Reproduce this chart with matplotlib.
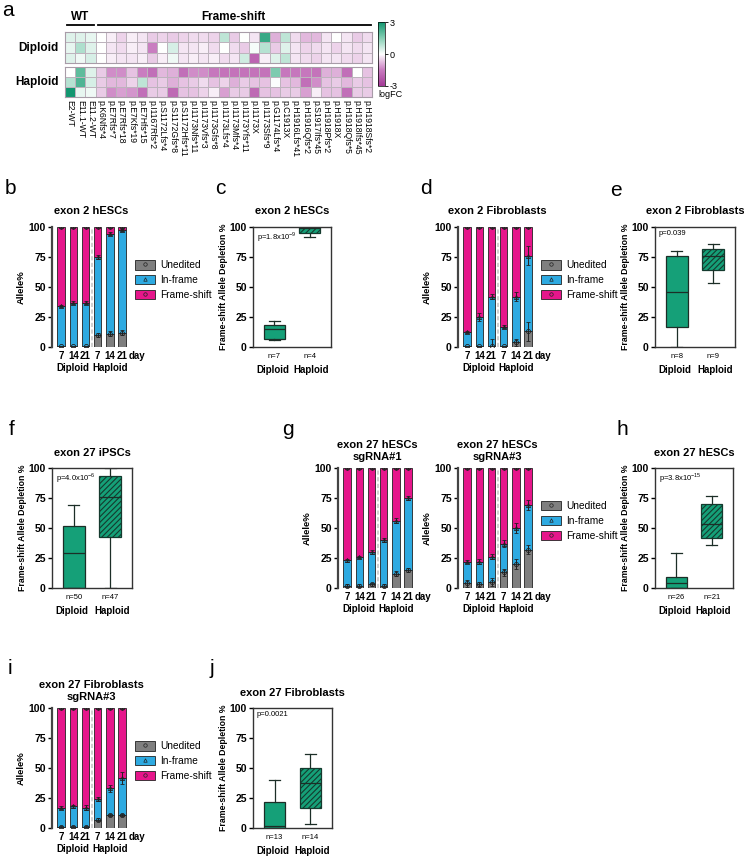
#Multi-panel figure: logFC heatmap, stacked allele bars and depletion box plots
import numpy as np
import matplotlib
matplotlib.use('Agg')
import matplotlib.pyplot as plt
from matplotlib.colors import LinearSegmentedColormap
from matplotlib.patches import Patch
from matplotlib.lines import Line2D
from matplotlib.legend_handler import HandlerTuple

plt.rcParams['font.family'] = ['Liberation Sans', 'DejaVu Sans']
plt.rcParams['mathtext.fontset'] = 'custom'
plt.rcParams['mathtext.rm'] = 'Liberation Sans'
plt.rcParams['hatch.linewidth'] = 0.8

#---------Data------
variants = ['E2-WT', 'E11.1-WT', 'E11.2-WT', 'p.K6Nfs*4', 'p.E7Rfs*7', 'p.E7Rfs*18',
            'p.E7Kfs*19', 'p.E7Hfs*15', 'p.I1167Rfs*2', 'p.S1172Lfs*4', 'p.S1172Gfs*8',
            'p.S1172Hfs*11', 'p.I1173Nfs*11', 'p.I1173Vfs*3', 'p.I1173Gfs*8', 'p.I1173Lfs*4',
            'p.I1173Mfs*4', 'p.I1173Yfs*11', 'p.I1173X', 'p.I1173Sfs*9', 'p.G1174Lfs*4',
            'p.C1913X', 'p.H1916Lfs*41', 'p.H1916Qfs*2', 'p.S1917Ifs*45', 'p.H1918Pfs*2',
            'p.H1918X', 'p.H1918Qfs*5', 'p.H1918Ifs*45', 'p.H1918Sfs*2']

diploid_fc = [
    [0.4, 0.4, 0.3, 0, -0.2, -0.5, -0.2, -0.3, -0.6, -0.5, -0.6, -0.5, -0.4, -0.4, -0.5,
     0.8, -0.6, 0, -0.3, 2.5, -0.9, 0.8, -0.4, -0.8, -0.8, -0.3, 0, -0.3, -0.6, -0.4],
    [0.3, 1.0, 0.4, 0, -0.3, -0.4, -0.2, -0.3, -1.5, 0, 0.5, -0.3, -0.3, -0.2, -0.4,
     0, -0.4, -0.6, 0.1, 0.9, -0.6, 0.4, -0.3, -0.5, -0.4, -0.3, -0.5, -0.3, -0.4, -0.3],
    [0.4, 0.2, 0.5, 0, -0.2, -0.3, -0.3, -0.2, -0.6, -0.2, 0.2, -0.3, -0.2, -0.3, -0.2,
     -0.4, -0.3, 0.6, -2.0, -0.2, 0.4, 0.8, -0.3, -0.4, -0.5, -0.3, -0.3, -0.4, -0.5, -0.3],
]
haploid_fc = [
    [0, 2.0, 0.4, -0.6, -1.3, -1.3, -0.7, -1.5, -1.8, -0.8, -0.9, -1.8, -1.3, -1.3, -1.6,
     -1.7, -1.7, -1.7, -1.7, -1.7, 1.6, -1.6, -1.6, -1.6, -1.7, -0.9, -0.9, -1.8, 0, -0.7],
    [0.9, 2.2, 0.5, -0.6, -0.8, -0.8, -0.5, 0.8, -0.7, -0.6, -0.9, -0.7, -0.6, -0.4, -0.7,
     -0.5, -0.9, -0.6, -0.7, -0.7, 0.05, -0.7, -0.8, -1.8, -1.3, -0.7, -0.6, -0.8, -0.6, -0.7],
    [3.0, 0.3, 0.2, -0.6, -1.3, -1.1, -1.2, -1.8, -0.6, -0.6, -1.9, -0.7, -0.7, -0.5, -0.2,
     -1.1, -0.6, -0.6, -1.9, -0.7, -0.7, -0.6, -0.6, -1.1, -0.2, -0.7, -0.7, -1.8, -0.6, -0.6],
]

days = ['7', '14', '21', '7', '14', '21']

# stacked bars: unedited %, in-frame % (frame-shift is the rest), with sd
b_uned = [0.5, 0.5, 0.5, 10, 11, 12]
b_infr = [33.5, 36.5, 36.5, 65, 83.5, 85.5]
b_uned_sd = [0.5, 0.5, 0.5, 1.5, 2, 2]
b_infr_sd = [1, 1.5, 1.5, 2, 1.5, 1]

d_uned = [0.5, 0.5, 1, 0.5, 4, 13]
d_infr = [12, 24.5, 41, 16.5, 38, 63]
d_uned_sd = [0.5, 0.5, 6, 0.5, 3, 8]
d_infr_sd = [1, 3, 2, 1.5, 4, 8]

g1_uned = [2, 2, 3, 2, 12, 15]
g1_infr = [21, 24, 27, 38, 44, 60]
g1_uned_sd = [1, 1, 1.5, 1, 2, 2]
g1_infr_sd = [1, 1, 1.5, 1.5, 2, 2]

g2_uned = [4, 3, 5, 13, 20, 32]
g2_infr = [18, 19, 21, 24, 30, 37]
g2_uned_sd = [3, 2, 3, 3, 4, 4]
g2_infr_sd = [1.5, 2, 2, 3, 4, 4]

i_uned = [1, 1, 1, 7, 11, 11]
i_infr = [16, 17, 16, 17, 22, 31]
i_uned_sd = [1, 1, 1, 1.5, 1, 1]
i_infr_sd = [1, 1.5, 2, 1.5, 3, 5]

# box plots: (whislo, q1, med, q3, whishi)
c_box = [(5.5, 6.7, 15, 18, 22), (92, 95, 99, 100, 100)]
e_box = [(0, 17, 45.5, 76, 80), (53, 64, 75.5, 82, 86)]
f_box = [(0, 0, 29.5, 51.5, 69.5), (0, 42.5, 75.5, 93.5, 100)]
h_box = [(0, 0, 4, 9, 29.5), (36, 42, 53.3, 70, 76.3)]
j_box = [(0, 0, 1.5, 22, 40), (3.3, 16.4, 37.5, 50.3, 62)]

#---------Plotting begins here------
W, H = 744, 857
fig = plt.figure(figsize=(W / 100, H / 100), dpi=100)

GRAY = '#7f7f7f'
BLUE = '#2eaae1'
PINK = '#e6168b'
GREEN = '#15a078'
EDGE = '#222222'


def add_ax(l, t, r, b):
    return fig.add_axes([l / W, 1 - b / H, (r - l) / W, (b - t) / H])


def panel_label(x, y, s):
    fig.text(x / W, 1 - y / H, s, fontsize=15, ha='center', va='center')


# ---- a: heatmap
cmap = LinearSegmentedColormap.from_list(
    'fc', [(0, '#a33a96'), (0.25, '#c97cc0'), (0.5, '#ffffff'), (0.75, '#86cfb4'), (1, '#11966f')])
ax_d = add_ax(65, 32, 372, 63)
ax_h = add_ax(65, 67, 372, 97)
for ax, vals, name in [(ax_d, diploid_fc, 'Diploid'), (ax_h, haploid_fc, 'Haploid')]:
    mesh = ax.pcolormesh(np.array(vals), cmap=cmap, vmin=-3, vmax=3,
                         edgecolors='#bdb3bd', linewidth=0.6)
    ax.set_xlim(0, len(variants))
    ax.set_ylim(3, 0)
    ax.set_yticks([])
    for s in ax.spines.values():
        s.set_color('#a89ca8')
        s.set_linewidth(0.8)
    ax.text(-0.6, 1.5, name, ha='right', va='center', fontsize=8.5, fontweight='bold')
ax_d.set_xticks([])
ax_h.set_xticks(np.arange(len(variants)) + 0.5)
ax_h.set_xticklabels(variants, rotation=-90, fontsize=6.2, va='top', ha='center')
ax_h.tick_params(axis='x', length=0, pad=2)

ax_d.plot([0.15, 2.85], [-0.7, -0.7], color='k', lw=1.3, clip_on=False)
ax_d.plot([3.2, 29.9], [-0.7, -0.7], color='k', lw=1.3, clip_on=False)
ax_d.text(1.5, -0.85, 'WT', ha='center', va='bottom', fontsize=8.5, fontweight='bold')
ax_d.text(16.5, -0.85, 'Frame-shift', ha='center', va='bottom', fontsize=8.5, fontweight='bold')

cax = add_ax(378, 22, 385, 86)
cb = fig.colorbar(mesh, cax=cax, ticks=[-3, 0, 3])
cb.outline.set_linewidth(0.5)
cax.set_yticklabels(['-3', '0', '3'], fontsize=6.5)
cax.tick_params(length=2, width=0.6, pad=1)
cax.text(0, -0.06, 'logFC', transform=cax.transAxes, ha='left', va='top', fontsize=6.5)
panel_label(8, 10, 'a')


# ---- stacked bar panels
def stacked(ax, uned, infr, uned_sd, infr_sd, title, legend=True, tpad=9):
    x = np.arange(len(days))
    uned = np.array(uned)
    infr = np.array(infr)
    frame = 100 - uned - infr
    kw = dict(width=0.62, edgecolor=EDGE, linewidth=0.6)
    ax.bar(x, uned, color=GRAY, **kw)
    ax.bar(x, infr, bottom=uned, color=BLUE, **kw)
    ax.bar(x, frame, bottom=uned + infr, color=PINK, **kw)
    ekw = dict(ls='none', ms=3, mfc='none', mec=EDGE, mew=0.6, ecolor=EDGE,
               elinewidth=0.7, capsize=1.6, capthick=0.7)
    ax.errorbar(x, uned, yerr=uned_sd, marker='o', **ekw)
    ax.errorbar(x, uned + infr, yerr=infr_sd, marker='^', **ekw)
    ax.errorbar(x, uned + infr + frame, yerr=0.5, marker='h', **ekw)
    ax.axvline(2.5, color='#c8c8c8', ls=(0, (2.5, 1.5)), lw=1.2, zorder=0)
    ax.set_xlim(-0.75, 5.65)
    ax.set_ylim(0, 100)
    ax.set_yticks([0, 25, 50, 75, 100])
    ax.set_xticks(x)
    ax.set_xticklabels(days, fontsize=7, fontweight='bold')
    ax.tick_params(axis='x', length=0, pad=3)
    ax.tick_params(axis='y', length=3, width=1, pad=1.5, labelsize=7.5)
    for lab in ax.get_yticklabels():
        lab.set_fontweight('bold')
    for s in ['top', 'right', 'bottom']:
        ax.spines[s].set_visible(False)
    ax.spines['left'].set_linewidth(1.6)
    ax.spines['left'].set_color('#444444')
    ax.set_ylabel('Allele%', fontsize=6.8, fontweight='bold', labelpad=2)
    ax.set_title(title, fontsize=8, fontweight='bold', pad=tpad, linespacing=1.15)
    ax.annotate('day', xy=(5.5, 0), xycoords=('data', 'axes fraction'), xytext=(0, -3),
                textcoords='offset points', ha='left', va='top', fontsize=7, fontweight='bold')
    for xc, name in [(0.95, 'Diploid'), (4.05, 'Haploid')]:
        ax.annotate(name, xy=(xc, 0), xycoords=('data', 'axes fraction'), xytext=(0, -11.5),
                    textcoords='offset points', ha='center', va='top', fontsize=7,
                    fontweight='bold')
    if legend:
        mk = dict(ls='', ms=2.5, mfc='none', mec=EDGE, mew=0.5)
        handles = [(Patch(fc=GRAY, ec=EDGE, lw=0.6), Line2D([], [], marker='o', **mk)),
                   (Patch(fc=BLUE, ec=EDGE, lw=0.6), Line2D([], [], marker='^', **mk)),
                   (Patch(fc=PINK, ec=EDGE, lw=0.6), Line2D([], [], marker='o', **mk))]
        ax.legend(handles, ['Unedited', 'In-frame', 'Frame-shift'],
                  handler_map={tuple: HandlerTuple(ndivide=1)}, numpoints=1,
                  loc='center left', bbox_to_anchor=(1.06, 0.56), frameon=False,
                  fontsize=7.3, handlelength=2.0, handleheight=1.1, handletextpad=0.5,
                  labelspacing=0.45, borderaxespad=0, borderpad=0)


# ---- box plot panels
def boxes(ax, stats, p, n, title):
    bstats = [dict(whislo=s[0], q1=s[1], med=s[2], q3=s[3], whishi=s[4], fliers=[])
              for s in stats]
    bp = ax.bxp(bstats, positions=[1, 2], widths=0.6, patch_artist=True,
                showfliers=False, capwidths=0.3)
    bp['boxes'][0].set(facecolor=GREEN, edgecolor='#1c2e27', linewidth=0.9)
    bp['boxes'][1].set(facecolor=GREEN, edgecolor='#143a2e', linewidth=0.9, hatch='//////')
    for k in ['medians', 'whiskers', 'caps']:
        for ln in bp[k]:
            ln.set(color='#1c2e27', linewidth=0.9)
    ax.set_xlim(0.4, 2.6)
    ax.set_ylim(0, 100)
    ax.set_yticks([0, 25, 50, 75, 100])
    ax.set_xticks([1, 2])
    ax.set_xticklabels(['n=%d' % n[0], 'n=%d' % n[1]], fontsize=5.5)
    ax.tick_params(axis='x', length=0, pad=4)
    ax.tick_params(axis='y', length=3, width=1, pad=1.5, labelsize=7.5)
    for lab in ax.get_yticklabels():
        lab.set_fontweight('bold')
    for s in ax.spines.values():
        s.set_linewidth(1.0)
        s.set_color('#333333')
    ax.text(0.05, 0.975, p, transform=ax.transAxes, fontsize=5.5, ha='left', va='top')
    ax.set_ylabel('Frame-shift Allele Depletion %', fontsize=6.3, fontweight='bold', labelpad=1)
    ax.set_title(title, fontsize=8, fontweight='bold', pad=9)
    for xc, name in [(0.95, 'Diploid'), (2.05, 'Haploid')]:
        ax.annotate(name, xy=(xc, 0), xycoords=('data', 'axes fraction'), xytext=(0, -13),
                    textcoords='offset points', ha='center', va='top', fontsize=7,
                    fontweight='bold')


ax_b = add_ax(52, 227, 130, 347)
stacked(ax_b, b_uned, b_infr, b_uned_sd, b_infr_sd, 'exon 2 hESCs')
ax_c = add_ax(253, 227, 331, 347)
boxes(ax_c, c_box, r'p=1.8x10$^{-9}$', (7, 4), 'exon 2 hESCs')
ax_dd = add_ax(458, 227, 536, 347)
stacked(ax_dd, d_uned, d_infr, d_uned_sd, d_infr_sd, 'exon 2 Fibroblasts')
ax_e = add_ax(655, 227, 735, 347)
boxes(ax_e, e_box, 'p=0.039', (8, 9), 'exon 2 Fibroblasts')

ax_f = add_ax(52, 468, 132, 588)
boxes(ax_f, f_box, r'p=4.0x10$^{-6}$', (50, 47), 'exon 27 iPSCs')
ax_g1 = add_ax(338, 468, 416, 588)
stacked(ax_g1, g1_uned, g1_infr, g1_uned_sd, g1_infr_sd, 'exon 27 hESCs\nsgRNA#1',
        legend=False, tpad=6)
ax_g2 = add_ax(458, 468, 536, 588)
stacked(ax_g2, g2_uned, g2_infr, g2_uned_sd, g2_infr_sd, 'exon 27 hESCs\nsgRNA#3', tpad=6)
ax_hh = add_ax(655, 468, 733, 588)
boxes(ax_hh, h_box, r'p=3.8x10$^{-15}$', (26, 21), 'exon 27 hESCs')

ax_i = add_ax(52, 708, 130, 828)
stacked(ax_i, i_uned, i_infr, i_uned_sd, i_infr_sd, 'exon 27 Fibroblasts\nsgRNA#3', tpad=6)
ax_j = add_ax(253, 708, 332, 828)
boxes(ax_j, j_box, 'p=0.0021', (13, 14), 'exon 27 Fibroblasts')

panel_label(10, 188, 'b')
panel_label(220, 188, 'c')
panel_label(426, 188, 'd')
panel_label(616, 190, 'e')
panel_label(12, 430, 'f')
panel_label(288, 430, 'g')
panel_label(622, 430, 'h')
panel_label(10, 668, 'i')
panel_label(212, 668, 'j')

fig.savefig('out.png', dpi=100)
